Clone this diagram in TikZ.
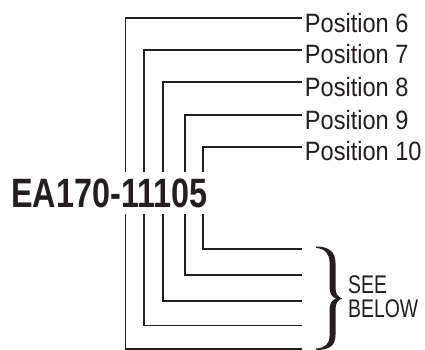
\documentclass[tikz,border=0pt]{standalone}
\usepackage{fontspec}
\setmainfont{Liberation Sans}
\newfontfamily\posfont[FakeStretch=0.89]{Liberation Sans}
\newfontfamily\notefont[FakeStretch=0.76]{Liberation Sans}
\newfontfamily\codefont[FakeStretch=0.79]{Liberation Sans}
\usetikzlibrary{positioning,calc}
\definecolor{inkgray}{HTML}{231F20}

\tikzset{
  leader/.style={inkgray, line width=1.7pt},
  poslabel/.style={anchor=base west, inner sep=0pt, text=inkgray,
    font=\posfont\fontsize{26.5}{26.5}\selectfont},
  notelabel/.style={anchor=base west, inner sep=0pt, text=inkgray,
    font=\notefont\fontsize{25.5}{25.5}\selectfont},
}

\begin{document}
\begin{tikzpicture}[x=1pt, y=-1pt]
    \useasboundingbox (0,0) rectangle (425,350);
    % part number, with room above and below for the leaders
    \node[anchor=base west, inner xsep=0pt, inner ysep=6.5pt, text=inkgray,
      font=\codefont\bfseries\fontsize{41}{41}\selectfont] (code) at (11,207) {EA170-11105};
    % corners of the leaders
    \coordinate (c6) at (125.5,18.3);
    \coordinate (c7) at (144.3,50);
    \coordinate (c8) at (163.3,82.3);
    \coordinate (c9) at (185.3,115);
    \coordinate (c10) at (203,146.7);
    \coordinate (e6) at (301.7,18.3);
    \coordinate (e7) at (301.7,50);
    \coordinate (e8) at (301.7,82.3);
    \coordinate (e9) at (301.7,115);
    \coordinate (e10) at (301.7,146.7);
    \coordinate (b10) at (301.7,249);
    \coordinate (b9) at (301.7,275);
    \coordinate (b8) at (301.7,301);
    \coordinate (b7) at (301.7,325.5);
    \coordinate (b6) at (301.7,349);
    % position labels
    \node[poslabel] (p6) at ($(e6)+(3,14)$) {Position 6};
    \node[poslabel] (p7) at ($(e7)+(3,14)$) {Position 7};
    \node[poslabel] (p8) at ($(e8)+(3,14)$) {Position 8};
    \node[poslabel] (p9) at ($(e9)+(3,14)$) {Position 9};
    \node[poslabel] (p10) at ($(e10)+(3,14)$) {Position 10};
    % upper leaders
    \draw[leader] (e6) -- (c6) -- (c6 |- code.north);
    \draw[leader] (e7) -- (c7) -- (c7 |- code.north);
    \draw[leader] (e8) -- (c8) -- (c8 |- code.north);
    \draw[leader] (e9) -- (c9) -- (c9 |- code.north);
    \draw[leader] (e10) -- (c10) -- (c10 |- code.north);
    % lower leaders
    \draw[leader] (c6 |- code.south) -- (c6 |- b6) -- (b6);
    \draw[leader] (c7 |- code.south) -- (c7 |- b7) -- (b7);
    \draw[leader] (c8 |- code.south) -- (c8 |- b8) -- (b8);
    \draw[leader] (c9 |- code.south) -- (c9 |- b9) -- (b9);
    \draw[leader] (c10 |- code.south) -- (c10 |- b10) -- (b10);
    % brace
    \fill[inkgray] (316,246.5) .. controls (329,246.5) and (335.5,252) .. (335.5,263)
      -- (335.5,288) .. controls (335.5,294) and (338,297) .. (342,298.5)
      .. controls (338,300) and (335.5,303) .. (335.5,309)
      -- (335.5,335) .. controls (335.5,346) and (329,350) .. (316,350)
      -- (316,348.5) .. controls (325,348) and (329.5,344) .. (329.5,336)
      -- (329.5,310) .. controls (329.5,304) and (331.5,300) .. (336,298.5)
      .. controls (331.5,297) and (329.5,293) .. (329.5,287)
      -- (329.5,262) .. controls (329.5,254) and (325,248.5) .. (316,248) -- cycle;
    \coordinate (tip) at (342,298.5);
    \node[notelabel] (see) at ($(tip)+(6,-5)$) {SEE};
    \node[notelabel] (below) at ($(tip)+(6,19)$) {BELOW};
\end{tikzpicture}
\end{document}
